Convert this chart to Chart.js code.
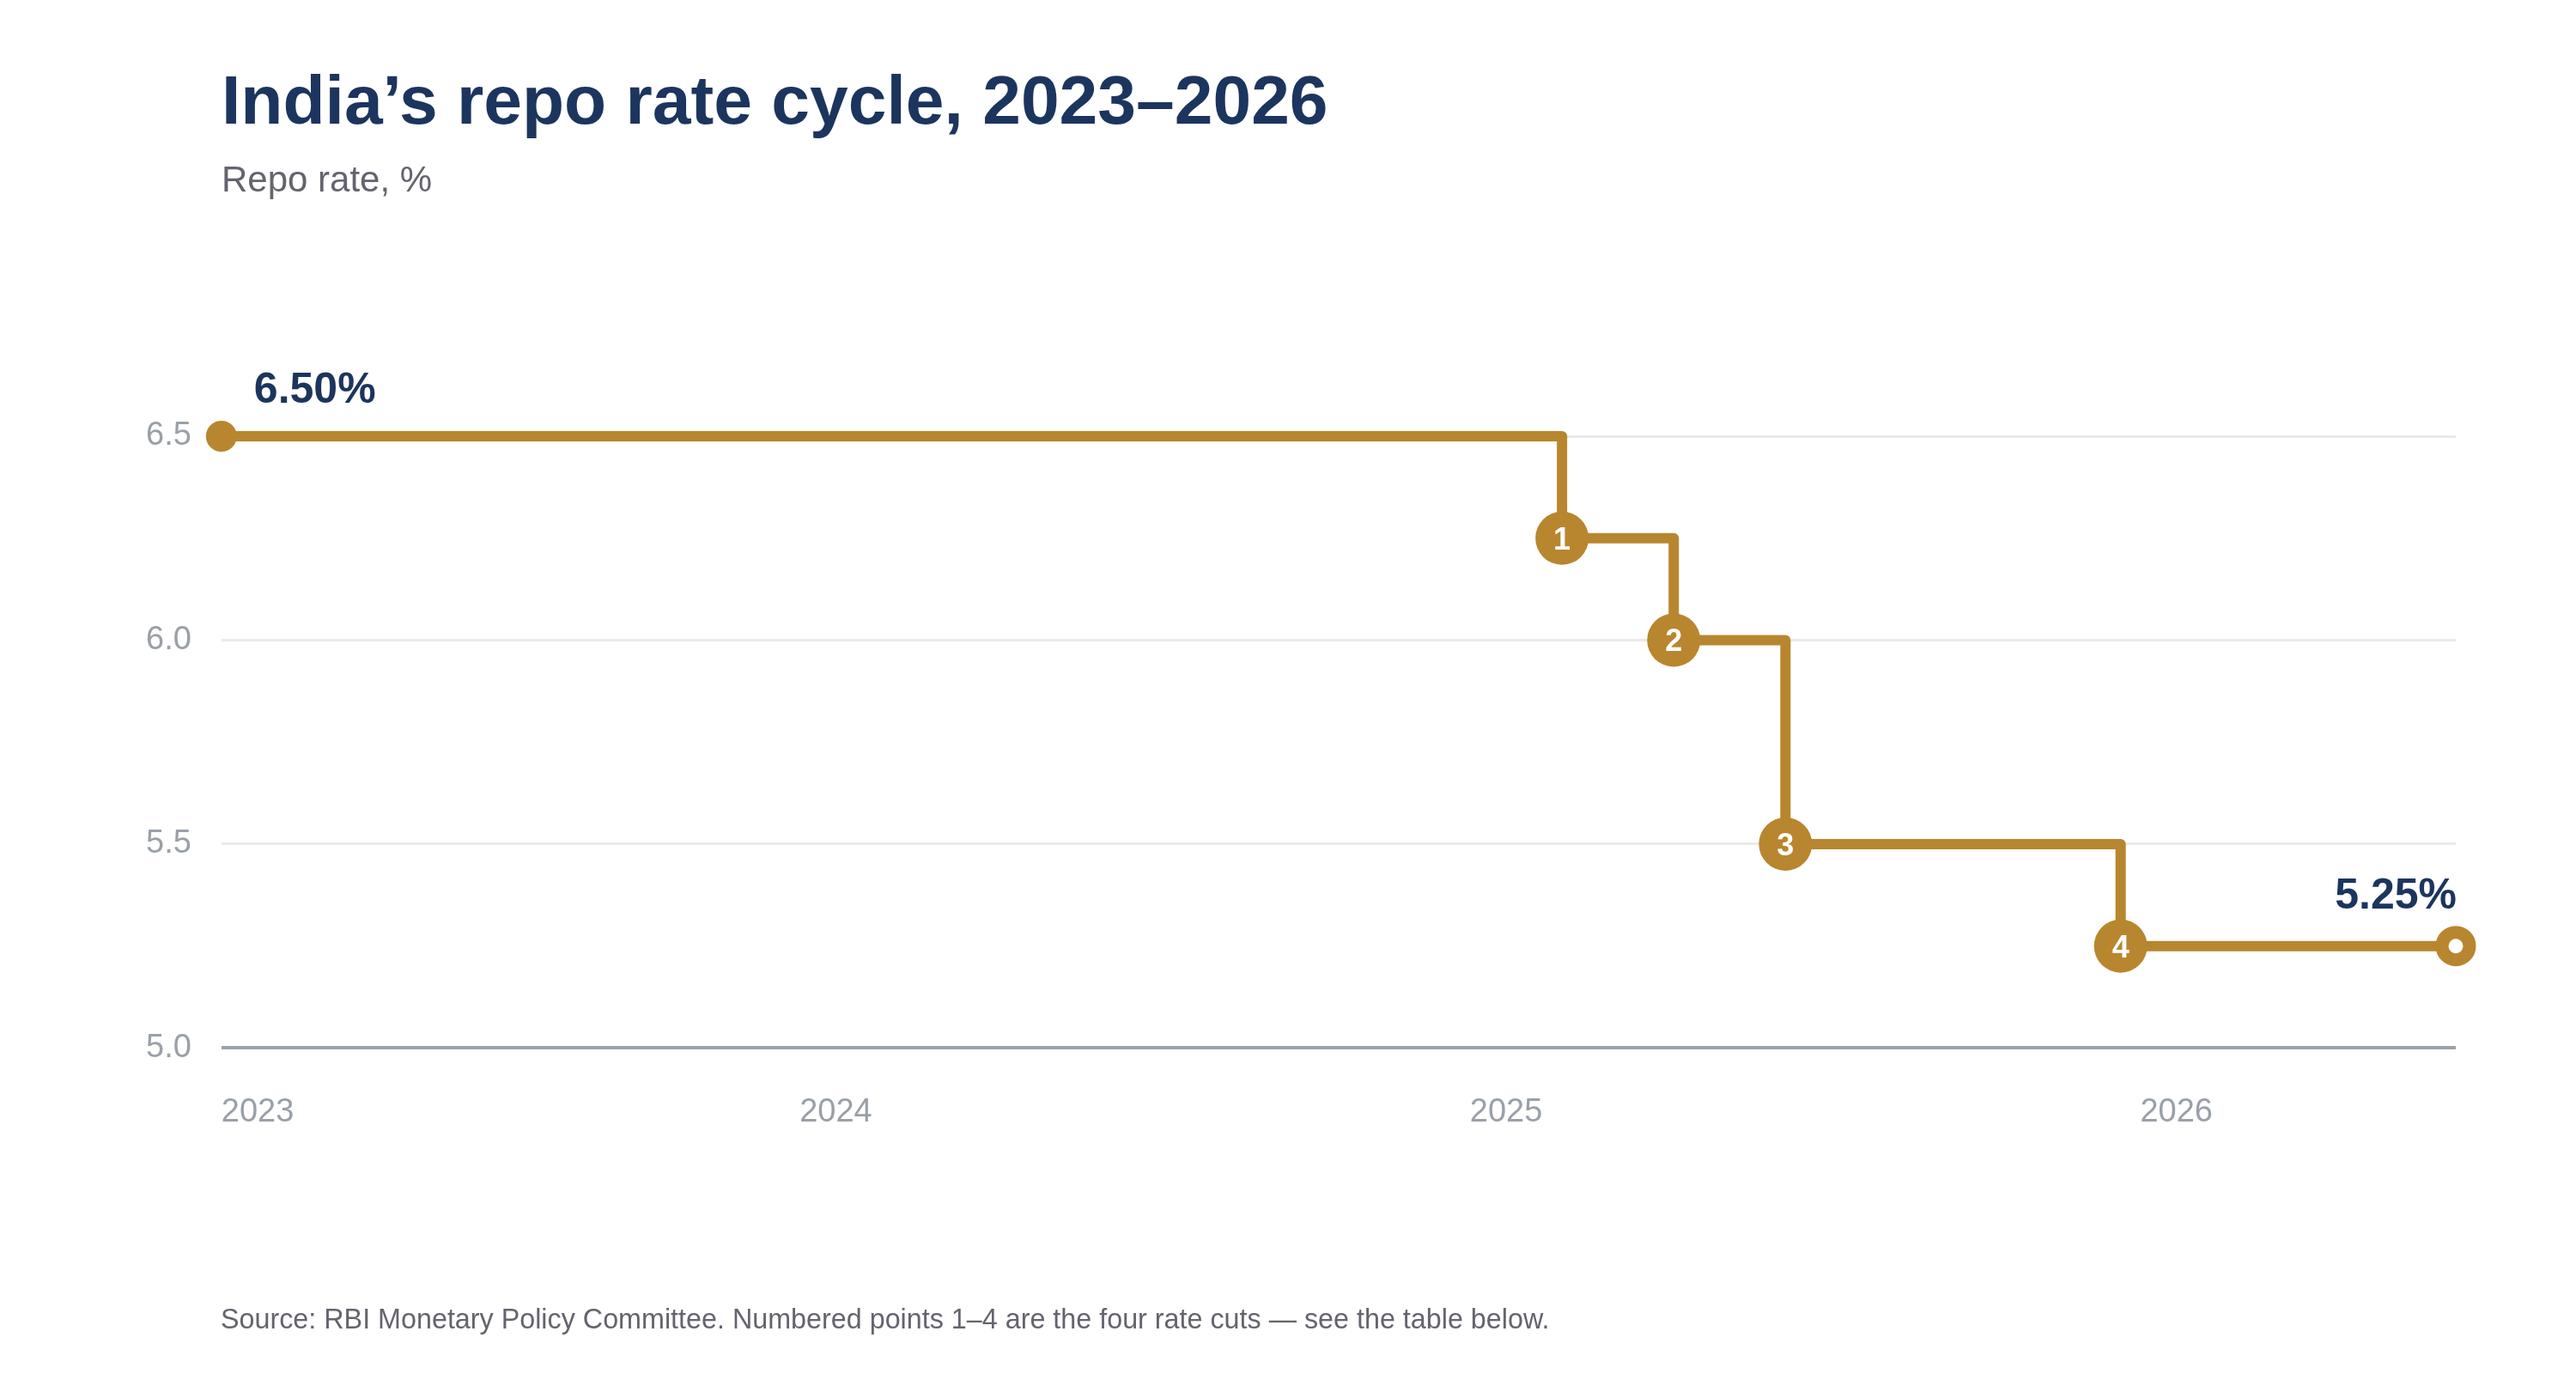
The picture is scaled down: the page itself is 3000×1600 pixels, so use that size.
<!DOCTYPE html>
<html>
<head>
<meta charset="utf-8">
<script src="https://cdn.jsdelivr.net/npm/chart.js@4.4.1/dist/chart.umd.min.js"></script>
<style>
  html, body { margin: 0; padding: 0; background: #ffffff; }
  #wrap { position: relative; width: 3000px; height: 1600px; overflow: hidden; background: #ffffff; }
  #chartBox { position: absolute; left: 0; top: 0; width: 3000px; height: 1600px; }
  .txt { position: absolute; margin: 0; line-height: 1; white-space: nowrap; font-family: "Liberation Sans", Arial, Helvetica, sans-serif; z-index: 2; }
  #title { left: 258px; top: 76px; font-size: 80.4px; font-weight: bold; color: #1c355e; }
  #subtitle { left: 258px; top: 188px; font-size: 42px; color: #66636f; }
  #source { left: 257px; top: 1520px; font-size: 32.3px; color: #66636f; }
</style>
</head>
<body>
<div id="wrap">
  <div id="title" class="txt">India’s repo rate cycle, 2023–2026</div>
  <div id="subtitle" class="txt">Repo rate, %</div>
  <div id="chartBox"><canvas id="c"></canvas></div>
  <div id="source" class="txt">Source: RBI Monetary Policy Committee. Numbered points 1–4 are the four rate cuts — see the table below.</div>
</div>
<script>
// ---------- data ----------
const decisionMonths = ["2023-02", "2025-02", "2025-04", "2025-06", "2025-12", "2026-06"];
const repoRate       = [6.50, 6.25, 6.00, 5.50, 5.25, 5.25];
const cutNumbers     = ["", "1", "2", "3", "4", ""];
const yearTickLabels = ["2023", "2024", "2025", "2026"];
const yTickValues    = [5.0, 5.5, 6.0, 6.5];

// ---------- helpers ----------
const BASE_YEAR = 2023;
function monthIndex(ym) {            // months since Jan 2023 (Jan 2023 = 0)
  const [y, m] = ym.split("-").map(Number);
  return (y - BASE_YEAR) * 12 + (m - 1);
}
const xs = decisionMonths.map(monthIndex);
const points = xs.map((x, i) => ({ x: x, y: repoRate[i] }));
const xMin = xs[0], xMax = xs[xs.length - 1];
// first year label sits at the start of the data, others at January of each year
const xTickValues = yearTickLabels.map((lab, i) => i === 0 ? xMin : (Number(lab) - BASE_YEAR) * 12);

const GOLD = "#b8862e";
const NAVY = "#1c355e";
const TICK = "#9aa0a9";
const FONT = '"Liberation Sans", Arial, Helvetica, sans-serif';

const annotations = {
  id: "annotations",
  beforeDraw(chart) {
    // left-align the first x label ("2023") at the start of the axis
    const sc = chart.scales.x;
    if (sc && typeof sc.getLabelItems === "function") {
      const items = sc.getLabelItems();
      if (items && items[0] && items[0].options) items[0].options.textAlign = "left";
    }
  },
  afterDatasetsDraw(chart) {
    const meta = chart.getDatasetMeta(0);
    const ctx = chart.ctx;
    ctx.save();
    // numbered cut markers
    ctx.font = "bold 36px " + FONT;
    ctx.fillStyle = "#ffffff";
    ctx.textAlign = "center";
    ctx.textBaseline = "alphabetic";
    cutNumbers.forEach((n, i) => {
      if (!n) return;
      const p = meta.data[i];
      ctx.fillText(n, p.x, p.y + 13);
    });
    // start / end value labels
    ctx.font = "bold 50px " + FONT;
    ctx.fillStyle = NAVY;
    const first = meta.data[0], last = meta.data[meta.data.length - 1];
    ctx.textAlign = "left";
    ctx.fillText(repoRate[0].toFixed(2) + "%", first.x + 38, first.y - 39);
    ctx.textAlign = "right";
    ctx.fillText(repoRate[repoRate.length - 1].toFixed(2) + "%", last.x + 1, last.y - 44);
    ctx.restore();
  }
};

const n = points.length;
new Chart(document.getElementById("c"), {
  type: "line",
  data: {
    datasets: [{
      data: points,
      borderColor: GOLD,
      borderWidth: 12,
      borderJoinStyle: "round",
      stepped: "before",
      fill: false,
      clip: false,
      pointRadius: points.map((p, i) => i === 0 ? 18 : (i === n - 1 ? 16 : 31)),
      pointBackgroundColor: points.map((p, i) => i === n - 1 ? "#ffffff" : GOLD),
      pointBorderColor: GOLD,
      pointBorderWidth: points.map((p, i) => i === n - 1 ? 15 : 0),
      pointHoverRadius: 0
    }]
  },
  options: {
    responsive: true,
    maintainAspectRatio: false,
    devicePixelRatio: 1,
    animation: false,
    events: [],
    layout: { padding: { left: 135, right: 140, top: 508, bottom: 230 } },
    plugins: { legend: { display: false }, tooltip: { enabled: false }, title: { display: false } },
    scales: {
      x: {
        type: "linear",
        min: xMin,
        max: xMax,
        grid: { display: false, drawTicks: false },
        border: { display: false },
        afterBuildTicks(scale) { scale.ticks = xTickValues.map(v => ({ value: v })); },
        ticks: {
          autoSkip: false,
          maxRotation: 0,
          padding: 52,
          color: TICK,
          font: { family: FONT, size: 38 },
          callback(value) {
            const i = xTickValues.indexOf(value);
            return i >= 0 ? yearTickLabels[i] : "";
          }
        }
      },
      y: {
        type: "linear",
        min: yTickValues[0],
        max: yTickValues[yTickValues.length - 1],
        afterBuildTicks(scale) { scale.ticks = yTickValues.map(v => ({ value: v })); },
        grid: {
          drawTicks: false,
          color: ctx => (ctx.tick && ctx.tick.value === yTickValues[0]) ? "#9ea3a9" : "#ebe9e4",
          lineWidth: ctx => (ctx.tick && ctx.tick.value === yTickValues[0]) ? 4 : 3
        },
        border: { display: false },
        ticks: {
          padding: 35,
          color: TICK,
          font: { family: FONT, size: 38 },
          callback: v => Number(v).toFixed(1)
        }
      }
    }
  },
  plugins: [annotations]
});
</script>
</body>
</html>
